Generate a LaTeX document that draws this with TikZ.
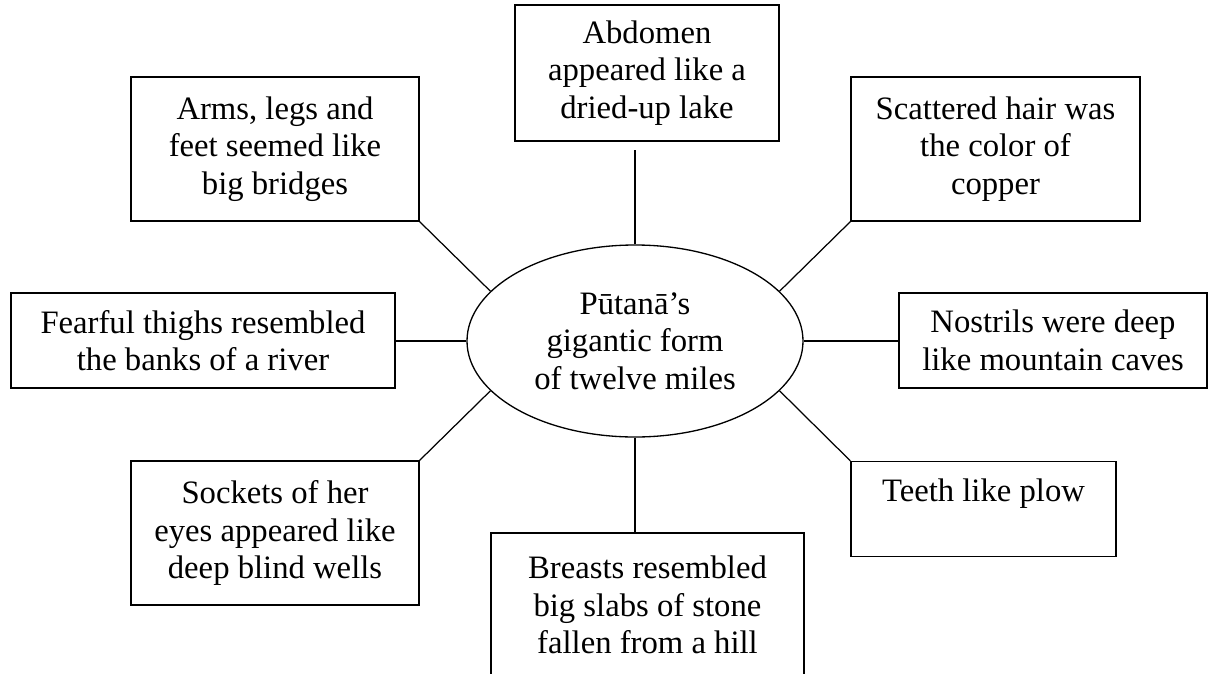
\documentclass[tikz,border=0pt]{standalone}
\usepackage{fontspec}
\setmainfont{Liberation Serif}
\usetikzlibrary{shapes.geometric}

\begin{document}
\begin{tikzpicture}[
  font={\fontsize{18.6}{21.3}\selectfont},
  % ---- Node styles ----
  trait/.style={draw, line width=0.75pt, align=center, inner sep=0pt},
  tall/.style={trait, minimum width=5.76cm, minimum height=2.88cm},
  flat/.style={trait, minimum height=1.90cm},
  form/.style={draw, ellipse, line width=0.75pt, align=center, inner sep=0pt,
               minimum width=6.72cm, minimum height=3.84cm},
  % ---- Lines ----
  line/.style={line width=0.7pt}
]

% ===== Page frame (x in cm, y in cm, 1px = 0.02cm) =====
\useasboundingbox (0,0) rectangle (24.16,-13.48);
\clip (0,0) rectangle (24.16,-13.48);

% Centre
\node[form] (form) at (12.70,-6.82) {Pūtanā’s\\gigantic form\\of twelve miles};

% Row 1
\node[tall, minimum width=5.28cm, minimum height=2.72cm] (abdomen) at (12.94,-1.46)
  {Abdomen\\appeared like a\\dried-up lake};
\node[tall] (arms) at (5.50,-2.98) {Arms, legs and\\feet seemed like\\big bridges};
\node[tall, minimum width=5.78cm] (hair) at (19.91,-2.98)
  {Scattered hair was\\the color of\\copper};

% Row 2
\node[flat, minimum width=7.68cm] (thighs) at (4.06,-6.81)
  {Fearful thighs resembled\\the banks of a river};
\node[flat, minimum width=6.16cm] (nostrils) at (21.06,-6.81)
  {Nostrils were deep\\like mountain caves};

% Row 3
\node[tall] (sockets) at (5.50,-10.66) {Sockets of her\\eyes appeared like\\deep blind wells};
\node[flat, minimum width=5.30cm] (teeth) at (19.67,-10.18) {Teeth like plow\\\phantom{X}};
\node[tall, minimum width=6.26cm] (breasts) at (12.95,-12.10)
  {Breasts resembled\\big slabs of stone\\fallen from a hill};

% ===== Connections =====
\draw[line, shorten >=1.6mm] (form.north) -- (form.north |- abdomen.south);
\draw[line] (form.south) -- (form.south |- breasts.north);
\draw[line] (form.west) -- (thighs.east |- form.west);
\draw[line] (form.east) -- (nostrils.west |- form.east);
\draw[line] (form.161) -- (arms.south east);
\draw[line] (form.19)  -- (hair.south west);
\draw[line] (form.199) -- (sockets.north east);
\draw[line] (form.-19) -- (teeth.north west);

\end{tikzpicture}
\end{document}
